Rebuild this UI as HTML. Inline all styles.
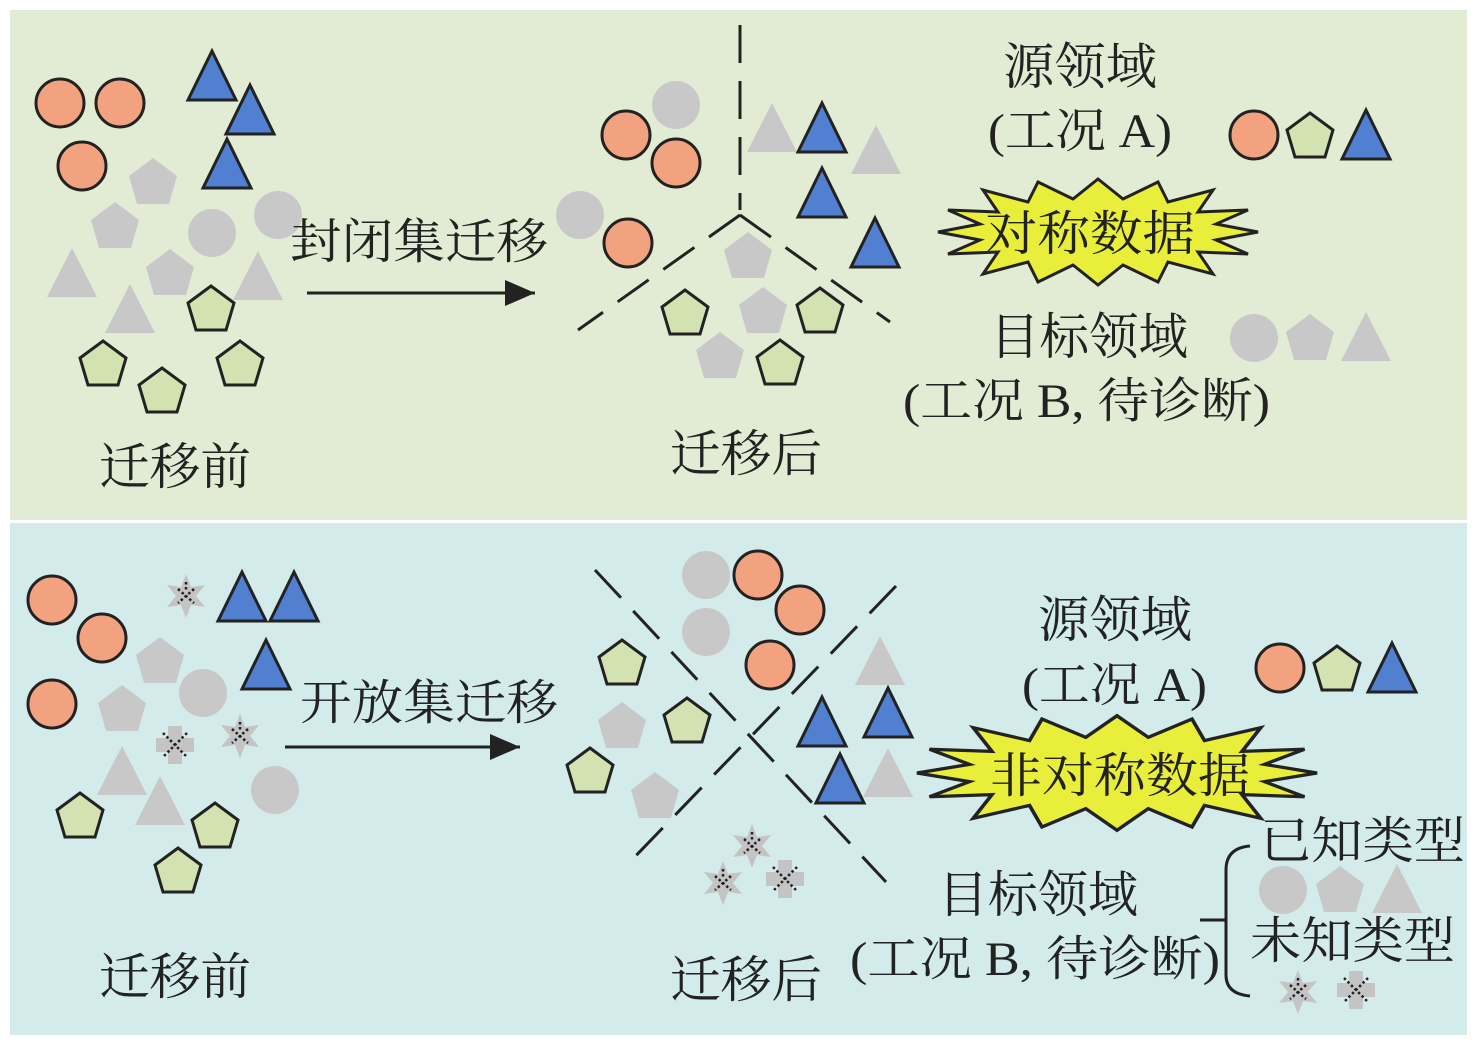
<!DOCTYPE html>
<html><head><meta charset="utf-8"><style>
html,body{margin:0;padding:0;background:#fff}
svg{display:block}
text{font-family:"Liberation Serif","Noto Serif CJK SC",serif;fill:#222}
</style></head><body>
<svg width="1476" height="1043" viewBox="0 0 1476 1043" xmlns="http://www.w3.org/2000/svg">
<defs>
<g id="oc"><circle r="24" fill="#f2a27e" stroke="#222" stroke-width="3"/></g>
<g id="gc"><circle r="24" fill="#c8c8c8"/></g>
<g id="gp"><polygon points="0,-23 23,-6 15,21 -15,21 -23,-6" fill="#d2e2b0" stroke="#222" stroke-width="3"/></g>
<g id="xp"><polygon points="0,-24 24,-6 16,22 -16,22 -24,-6" fill="#c8c8c8"/></g>
<g id="bt"><polygon points="0,-25 24,24 -24,24" fill="#5080cf" stroke="#222" stroke-width="3" stroke-linejoin="miter"/></g>
<g id="xt"><polygon points="0,-25 25,24 -25,24" fill="#c8c8c8"/></g>
<g id="st"><polygon points="0,-22 5,-9 19,-11 10,0 19,11 5,9 0,22 -5,9 -19,11 -10,0 -19,-11 -5,-9" fill="#c4c4c4"/><path d="M-8,-7 L8,7 M8,-7 L-8,7 M0,-14 L0,-6" stroke="#222" stroke-width="2.5" stroke-dasharray="2.5,2.5"/></g>
<g id="cr"><path d="M-7,-19 H7 V-7 H19 V7 H7 V19 H-7 V7 H-19 V-7 H-7 Z" fill="#c4c4c4"/><path d="M-12,-12 L12,12 M12,-12 L-12,12" stroke="#222" stroke-width="2.5" stroke-dasharray="2.5,2.5"/></g>
<polygon id="burst" points="-160,0 -118,-8 -150,-22 -100,-20 -115,-42 -70,-30 -60,-50 -25,-33 0,-53 25,-33 60,-50 70,-30 115,-42 100,-20 150,-22 118,-8 160,0 118,8 150,22 100,20 115,42 70,30 60,50 25,33 0,53 -25,33 -60,50 -70,30 -115,42 -100,20 -150,22 -118,8" fill="#e8ee3a" stroke="#222" stroke-width="3"/>
</defs>
<rect x="10" y="10" width="1457" height="510" fill="#e2ecd4"/>
<rect x="10" y="523" width="1457" height="512" fill="#d3ebeb"/>

<!-- TOP before -->
<use href="#xp" x="153" y="182"/><use href="#xp" x="115" y="226"/><use href="#xp" x="170" y="273"/>
<use href="#gc" x="212" y="233"/><use href="#gc" x="278" y="215"/>
<use href="#xt" x="72" y="273"/><use href="#xt" x="258" y="276"/><use href="#xt" x="130" y="309"/>
<use href="#oc" x="60" y="103"/><use href="#oc" x="120" y="103"/><use href="#oc" x="82" y="166"/>
<use href="#bt" x="212" y="76"/><use href="#bt" x="250" y="110"/><use href="#bt" x="227" y="164"/>
<use href="#gp" x="211" y="309"/><use href="#gp" x="103" y="364"/><use href="#gp" x="162" y="391"/><use href="#gp" x="240" y="364"/>
<text x="290" y="258" font-size="48" textLength="258" lengthAdjust="spacingAndGlyphs">封闭集迁移</text>
<line x1="307" y1="293" x2="535" y2="293" stroke="#222" stroke-width="3"/>
<path d="M505,280 L535,293 L505,306 Z" fill="#222"/>
<text x="99" y="484" font-size="50" textLength="152" lengthAdjust="spacingAndGlyphs">迁移前</text>

<!-- TOP after -->
<g stroke="#222" stroke-width="3" stroke-dasharray="38,18" fill="none">
<line x1="740" y1="25" x2="740" y2="210"/>
<line x1="740" y1="215" x2="578" y2="330"/>
<line x1="740" y1="215" x2="890" y2="322"/>
</g>
<use href="#gc" x="676" y="105"/><use href="#gc" x="580" y="215"/>
<use href="#oc" x="626" y="135"/><use href="#oc" x="676" y="163"/><use href="#oc" x="628" y="243"/>
<use href="#xt" x="772" y="128"/><use href="#xt" x="876" y="150"/>
<use href="#bt" x="822" y="128"/><use href="#bt" x="822" y="193"/><use href="#bt" x="875" y="243"/>
<use href="#xp" x="748" y="256"/><use href="#xp" x="763" y="311"/><use href="#xp" x="720" y="356"/>
<use href="#gp" x="685" y="313"/><use href="#gp" x="820" y="311"/><use href="#gp" x="780" y="363"/>
<text x="670" y="471" font-size="50" textLength="152" lengthAdjust="spacingAndGlyphs">迁移后</text>

<!-- TOP legend -->
<text x="1003" y="84" font-size="50" textLength="154" lengthAdjust="spacingAndGlyphs">源领域</text>
<text x="988" y="147" font-size="48" textLength="184" lengthAdjust="spacingAndGlyphs">(工况 A)</text>
<use href="#oc" x="1254" y="135"/><use href="#gp" x="1310" y="136"/><use href="#bt" x="1366" y="135"/>
<use href="#burst" transform="translate(1098,232)"/>
<text x="985" y="250" font-size="48" textLength="210" lengthAdjust="spacingAndGlyphs">对称数据</text>
<text x="990" y="354" font-size="50" textLength="198" lengthAdjust="spacingAndGlyphs">目标领域</text>
<use href="#gc" x="1254" y="338"/><use href="#xp" x="1310" y="338"/><use href="#xt" x="1366" y="337"/>
<text x="903" y="417" font-size="48" textLength="367" lengthAdjust="spacingAndGlyphs">(工况 B, 待诊断)</text>

<!-- BOTTOM before -->
<use href="#xp" x="160" y="661"/><use href="#xp" x="122" y="709"/>
<use href="#gc" x="203" y="693"/><use href="#gc" x="275" y="790"/>
<use href="#xt" x="122" y="771"/><use href="#xt" x="160" y="801"/>
<use href="#oc" x="52" y="600"/><use href="#oc" x="102" y="638"/><use href="#oc" x="52" y="704"/>
<use href="#st" x="186" y="596"/><use href="#st" x="240" y="736"/><use href="#cr" x="175" y="745"/>
<use href="#bt" x="242" y="597"/><use href="#bt" x="294" y="597"/><use href="#bt" x="266" y="665"/>
<use href="#gp" x="80" y="816"/><use href="#gp" x="215" y="826"/><use href="#gp" x="178" y="871"/>
<text x="300" y="719" font-size="48" textLength="258" lengthAdjust="spacingAndGlyphs">开放集迁移</text>
<line x1="285" y1="747" x2="520" y2="747" stroke="#222" stroke-width="3"/>
<path d="M490,734 L520,747 L490,760 Z" fill="#222"/>
<text x="99" y="994" font-size="50" textLength="152" lengthAdjust="spacingAndGlyphs">迁移前</text>

<!-- BOTTOM after -->
<g stroke="#222" stroke-width="3" stroke-dasharray="38,18" fill="none">
<line x1="595" y1="570" x2="886" y2="882"/>
<line x1="896" y1="586" x2="626" y2="866"/>
</g>
<use href="#gc" x="706" y="575"/><use href="#gc" x="706" y="632"/>
<use href="#oc" x="758" y="575"/><use href="#oc" x="800" y="610"/><use href="#oc" x="770" y="665"/>
<use href="#xp" x="622" y="726"/><use href="#xp" x="655" y="796"/>
<use href="#gp" x="622" y="663"/><use href="#gp" x="687" y="721"/><use href="#gp" x="590" y="771"/>
<use href="#xt" x="880" y="661"/><use href="#xt" x="888" y="773"/>
<use href="#bt" x="822" y="722"/><use href="#bt" x="888" y="713"/><use href="#bt" x="840" y="779"/>
<use href="#st" x="752" y="846"/><use href="#st" x="723" y="883"/><use href="#cr" x="785" y="879"/>
<text x="670" y="997" font-size="50" textLength="152" lengthAdjust="spacingAndGlyphs">迁移后</text>

<!-- BOTTOM legend -->
<text x="1038" y="637" font-size="50" textLength="154" lengthAdjust="spacingAndGlyphs">源领域</text>
<text x="1022" y="701" font-size="48" textLength="185" lengthAdjust="spacingAndGlyphs">(工况 A)</text>
<use href="#oc" x="1280" y="668"/><use href="#gp" x="1337" y="669"/><use href="#bt" x="1392" y="668"/>
<use href="#burst" transform="translate(1117,773) scale(1.25,1.08)"/>
<text x="990" y="792" font-size="48" textLength="260" lengthAdjust="spacingAndGlyphs">非对称数据</text>
<text x="938" y="912" font-size="50" textLength="200" lengthAdjust="spacingAndGlyphs">目标领域</text>
<text x="850" y="975" font-size="48" textLength="370" lengthAdjust="spacingAndGlyphs">(工况 B, 待诊断)</text>
<path d="M1250,846 Q1226,848 1226,870 L1226,975 Q1226,994 1250,996 M1200,920 L1226,920" stroke="#222" stroke-width="3" fill="none"/>
<text x="1260" y="858" font-size="50" textLength="205" lengthAdjust="spacingAndGlyphs">已知类型</text>
<use href="#gc" x="1283" y="890"/><use href="#xp" x="1340" y="890"/><use href="#xt" x="1397" y="889"/>
<text x="1250" y="958" font-size="50" textLength="205" lengthAdjust="spacingAndGlyphs">未知类型</text>
<use href="#st" x="1298" y="992"/><use href="#cr" x="1356" y="990"/>
</svg>
</body></html>
